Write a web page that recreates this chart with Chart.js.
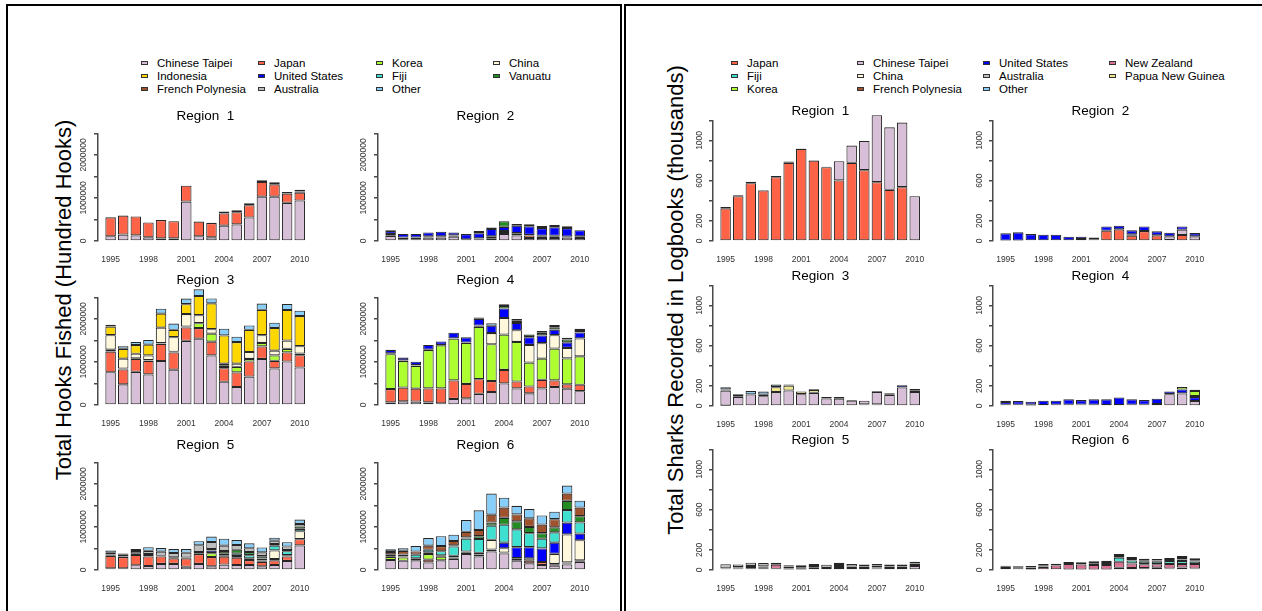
<!DOCTYPE html>
<html>
<head>
<meta charset="utf-8">
<script src="https://cdn.jsdelivr.net/npm/chart.js@4.4.1/dist/chart.umd.min.js"></script>
<style>
  body { margin: 0; width: 1262px; height: 611px; overflow: hidden; position: relative; background: #fff;
         font-family: "Liberation Sans", Arial, sans-serif; color: #000; }
  canvas { position: absolute; }
  .frame { position: absolute; border: 2px solid #000; }
  .ytitle { position: absolute; font-size: 22px; white-space: nowrap; transform: translate(-50%, -50%) rotate(-90deg); }
  .leg { position: absolute; height: 13px; font-size: 11.5px; line-height: 13px; white-space: nowrap; display: flex; align-items: center; }
  .leg i { display: inline-block; width: 5px; height: 2px; border: 1px solid #333; margin-right: 9px; }
</style>
</head>
<body>
<div class="frame" style="left:6px; top:4px; width:612px; height:700px;"></div>
<div class="frame" style="left:624px; top:4px; width:700px; height:700px; border-right:none;"></div>
<div class="ytitle" style="left:64px; top:300px;">Total Hooks Fished (Hundred Hooks)</div>
<div class="ytitle" style="left:676px; top:300px;">Total Sharks Recorded in Logbooks (thousands)</div>

<script>
// years on the x axis
var years = [1995, 1996, 1997, 1998, 1999, 2000, 2001, 2002, 2003, 2004, 2005, 2006, 2007, 2008, 2009, 2010];
var yearLabels = [1995, 1998, 2001, 2004, 2007, 2010];

// left panel: hooks, stacking order = legend order
var hookSeries = ['Chinese Taipei', 'Japan', 'Korea', 'China', 'Indonesia', 'United States', 'Fiji', 'Vanuatu',
                  'French Polynesia', 'Australia', 'Other'];
var hookColors = ['#D8BFD8', '#FF6347', '#ADFF2F', '#FFF8DC', '#FFD700', '#0000FF', '#40E0D0', '#228B22',
                  '#A0522D', '#BEBEBE', '#87CEFA'];
var hookTicks = [0, 500000, 1000000, 1500000, 2000000, 2500000];
var hookTickLabels = [0, 1000000, 2000000];

var hooksR1 = {
  'Chinese Taipei': [110000, 150000, 130000, 85000, 60000, 60000, 915000, 110000, 85000, 355000, 385000, 545000, 1030000, 1030000, 885000, 940000],
  'Japan':          [440000, 440000, 440000, 345000, 425000, 400000, 370000, 340000, 330000, 285000, 285000, 285000, 340000, 285000, 215000, 180000],
  'Vanuatu':        [0, 0, 0, 0, 0, 0, 0, 0, 10000, 45000, 45000, 45000, 40000, 50000, 40000, 30000],
  'Other':          [0, 0, 0, 0, 0, 0, 0, 0, 0, 0, 0, 0, 0, 0, 0, 40000]
};
var hooksR2 = {
  'Chinese Taipei': [120000, 40000, 40000, 80000, 80000, 100000, 20000, 30000, 50000, 160000, 130000, 70000, 70000, 70000, 80000, 70000],
  'Japan':          [40000, 40000, 40000, 30000, 30000, 30000, 20000, 30000, 40000, 50000, 40000, 60000, 40000, 40000, 20000, 20000],
  'China':          [0, 0, 0, 0, 0, 0, 0, 0, 20000, 20000, 15000, 10000, 10000, 10000, 0, 20000],
  'United States':  [70000, 85000, 85000, 90000, 105000, 70000, 120000, 120000, 170000, 100000, 170000, 200000, 180000, 200000, 200000, 140000],
  'Vanuatu':        [0, 0, 0, 0, 0, 0, 0, 50000, 35000, 130000, 40000, 50000, 50000, 50000, 40000, 0],
  'Australia':      [20000, 0, 0, 0, 0, 0, 0, 0, 0, 0, 0, 0, 0, 0, 0, 0]
};
var hooksR3 = {
  'Chinese Taipei': [760000, 480000, 770000, 710000, 1020000, 820000, 1490000, 1540000, 1150000, 540000, 415000, 660000, 1070000, 850000, 1010000, 870000],
  'Japan':          [480000, 345000, 300000, 315000, 400000, 400000, 310000, 245000, 320000, 315000, 340000, 350000, 290000, 175000, 210000, 285000],
  'Korea':          [45000, 20000, 15000, 15000, 15000, 15000, 20000, 115000, 185000, 55000, 130000, 60000, 80000, 125000, 85000, 40000],
  'China':          [335000, 230000, 105000, 110000, 360000, 340000, 290000, 185000, 105000, 50000, 75000, 160000, 180000, 110000, 190000, 170000],
  'Indonesia':      [200000, 230000, 200000, 250000, 325000, 170000, 230000, 445000, 600000, 655000, 500000, 515000, 590000, 530000, 710000, 700000],
  'Other':          [40000, 60000, 70000, 110000, 115000, 145000, 130000, 155000, 115000, 155000, 125000, 100000, 145000, 120000, 140000, 125000]
};
var hooksR4 = {
  'Chinese Taipei': [60000, 85000, 80000, 60000, 40000, 140000, 155000, 260000, 300000, 500000, 385000, 270000, 385000, 420000, 380000, 320000],
  'Japan':          [310000, 320000, 300000, 325000, 345000, 430000, 335000, 340000, 255000, 315000, 160000, 160000, 200000, 150000, 100000, 150000],
  'Korea':          [810000, 615000, 530000, 890000, 1000000, 970000, 950000, 1215000, 855000, 820000, 920000, 555000, 490000, 740000, 600000, 660000],
  'China':          [20000, 15000, 15000, 10000, 10000, 10000, 10000, 30000, 260000, 385000, 270000, 410000, 360000, 310000, 245000, 415000],
  'United States':  [80000, 65000, 80000, 110000, 80000, 130000, 120000, 155000, 170000, 220000, 170000, 180000, 180000, 130000, 130000, 140000],
  'Vanuatu':        [0, 0, 0, 0, 0, 0, 0, 0, 0, 60000, 50000, 60000, 60000, 55000, 65000, 55000],
  'Australia':      [0, 0, 0, 0, 0, 0, 0, 30000, 0, 40000, 40000, 0, 45000, 50000, 40000, 30000],
  'Other':          [0, 0, 0, 0, 0, 0, 0, 0, 60000, 0, 0, 0, 0, 0, 0, 0]
};
var hooksR5 = {
  'Chinese Taipei': [40000, 40000, 110000, 90000, 140000, 140000, 75000, 140000, 85000, 125000, 115000, 115000, 85000, 115000, 210000, 570000],
  'Japan':          [290000, 260000, 240000, 225000, 175000, 130000, 195000, 230000, 215000, 185000, 170000, 115000, 105000, 110000, 105000, 145000],
  'Korea':          [0, 0, 0, 0, 0, 0, 0, 0, 90000, 0, 0, 0, 0, 30000, 0, 0],
  'China':          [0, 0, 0, 0, 0, 0, 0, 0, 0, 0, 0, 0, 0, 200000, 0, 185000],
  'United States':  [30000, 15000, 30000, 0, 15000, 25000, 20000, 20000, 60000, 30000, 40000, 40000, 30000, 0, 30000, 0],
  'Fiji':           [0, 0, 0, 0, 0, 0, 0, 0, 0, 40000, 55000, 75000, 45000, 110000, 90000, 55000],
  'Vanuatu':        [0, 0, 0, 55000, 0, 0, 0, 25000, 40000, 60000, 90000, 70000, 55000, 40000, 30000, 55000],
  'Australia':      [40000, 40000, 60000, 75000, 95000, 100000, 110000, 160000, 160000, 125000, 110000, 90000, 90000, 75000, 80000, 60000],
  'Other':          [55000, 30000, 45000, 85000, 85000, 90000, 85000, 95000, 125000, 160000, 115000, 115000, 115000, 70000, 100000, 100000]
};
var hooksR6 = {
  'Chinese Taipei':   [230000, 215000, 225000, 175000, 225000, 260000, 370000, 315000, 430000, 385000, 215000, 155000, 115000, 100000, 130000, 185000],
  'Japan':            [0, 0, 0, 65000, 0, 30000, 30000, 45000, 45000, 0, 0, 60000, 70000, 20000, 20000, 20000],
  'Korea':            [75000, 75000, 45000, 130000, 85000, 40000, 30000, 40000, 0, 20000, 40000, 0, 0, 20000, 25000, 20000],
  'China':            [20000, 25000, 0, 40000, 30000, 0, 0, 0, 225000, 100000, 20000, 55000, 0, 235000, 650000, 465000],
  'United States':    [0, 0, 0, 0, 0, 0, 0, 0, 0, 130000, 255000, 260000, 315000, 260000, 275000, 155000],
  'Fiji':             [40000, 45000, 85000, 60000, 95000, 215000, 300000, 320000, 330000, 415000, 415000, 325000, 225000, 240000, 290000, 260000],
  'Vanuatu':          [0, 0, 0, 0, 0, 30000, 25000, 65000, 70000, 160000, 185000, 145000, 130000, 115000, 215000, 145000],
  'French Polynesia': [55000, 85000, 75000, 95000, 120000, 100000, 130000, 145000, 185000, 240000, 160000, 200000, 200000, 190000, 170000, 200000],
  'Other':            [60000, 60000, 125000, 175000, 230000, 145000, 275000, 455000, 490000, 230000, 200000, 215000, 210000, 175000, 185000, 160000]
};

// right panel: sharks (thousands)
var sharkSeries = ['Japan', 'Chinese Taipei', 'United States', 'New Zealand', 'Fiji', 'China', 'Australia',
                   'Papua New Guinea', 'Korea', 'French Polynesia', 'Other'];
var sharkColors = ['#FF6347', '#D8BFD8', '#0000FF', '#DB7093', '#40E0D0', '#FFF8DC', '#BEBEBE',
                   '#F0E68C', '#ADFF2F', '#A0522D', '#87CEFA'];
var sharkTicks = [0, 200, 400, 600, 800, 1000, 1200];
var sharkTickLabels = [0, 200, 600, 1000];

var sharksR1 = {
  'Japan':          [325, 446, 575, 502, 635, 777, 916, 800, 734, 602, 777, 704, 585, 509, 535, 0],
  'Chinese Taipei': [0, 0, 0, 0, 0, 0, 0, 0, 0, 191, 172, 291, 665, 621, 642, 446],
  'United States':  [12, 10, 13, 5, 10, 13, 3, 3, 3, 0, 0, 0, 0, 0, 0, 0]
};
var sharksR2 = {
  'Japan':          [5, 4, 0, 0, 0, 0, 20, 17, 102, 116, 53, 99, 56, 10, 60, 0],
  'Chinese Taipei': [0, 0, 0, 0, 0, 0, 0, 0, 0, 0, 13, 0, 0, 36, 52, 46],
  'United States':  [71, 82, 69, 63, 63, 43, 23, 19, 43, 36, 40, 46, 40, 37, 33, 33]
};
var sharksR3 = {
  'Japan':            [3, 0, 0, 0, 0, 0, 0, 0, 0, 0, 0, 16, 16, 0, 0, 0],
  'Chinese Taipei':   [150, 90, 115, 98, 138, 154, 118, 131, 75, 72, 52, 36, 125, 111, 184, 138],
  'United States':    [0, 8, 0, 0, 0, 0, 0, 0, 14, 17, 7, 0, 7, 17, 23, 0],
  'China':            [0, 0, 0, 0, 0, 0, 0, 0, 0, 0, 0, 0, 0, 0, 0, 13],
  'Australia':        [10, 0, 0, 0, 0, 0, 0, 0, 0, 0, 0, 0, 0, 0, 0, 0],
  'Papua New Guinea': [0, 0, 0, 15, 49, 49, 26, 30, 0, 0, 0, 0, 0, 0, 0, 0],
  'French Polynesia': [0, 0, 0, 0, 0, 10, 0, 8, 0, 0, 0, 0, 0, 0, 0, 19],
  'Other':            [24, 20, 33, 30, 26, 0, 0, 0, 0, 0, 0, 0, 0, 0, 0, 0]
};
var sharksR4 = {
  'Japan':            [12, 12, 5, 8, 12, 12, 0, 0, 0, 0, 0, 0, 0, 0, 0, 0],
  'Chinese Taipei':   [0, 0, 8, 0, 0, 0, 15, 12, 10, 10, 12, 12, 20, 118, 125, 49],
  'United States':    [28, 37, 30, 44, 40, 54, 44, 54, 56, 75, 54, 47, 52, 26, 39, 40],
  'China':            [0, 0, 0, 0, 0, 0, 0, 0, 0, 0, 0, 0, 0, 0, 0, 10],
  'Korea':            [12, 0, 0, 0, 0, 0, 0, 0, 0, 0, 0, 0, 0, 0, 26, 50],
  'French Polynesia': [0, 0, 0, 0, 0, 0, 0, 0, 0, 0, 0, 0, 0, 0, 0, 12]
};
var sharksR5 = {
  'Japan':            [12, 15, 17, 13, 12, 5, 5, 10, 10, 10, 10, 10, 0, 10, 10, 0],
  'Chinese Taipei':   [0, 0, 0, 0, 0, 0, 0, 0, 0, 0, 0, 0, 15, 0, 0, 40],
  'United States':    [5, 10, 12, 10, 0, 10, 12, 10, 0, 0, 10, 10, 10, 10, 10, 20],
  'New Zealand':      [0, 5, 10, 13, 41, 20, 10, 8, 10, 20, 15, 15, 20, 15, 15, 5],
  'Fiji':             [0, 0, 0, 0, 0, 0, 0, 0, 0, 20, 0, 0, 0, 0, 0, 0],
  'Australia':        [40, 25, 34, 34, 20, 12, 20, 22, 33, 23, 25, 20, 15, 20, 20, 5],
  'Papua New Guinea': [0, 0, 0, 0, 0, 0, 0, 10, 0, 0, 0, 0, 0, 0, 0, 13]
};
var sharksR6 = {
  'Japan':            [10, 10, 0, 0, 0, 0, 0, 5, 5, 10, 8, 8, 8, 15, 0, 15],
  'Chinese Taipei':   [0, 0, 0, 0, 0, 0, 0, 0, 0, 0, 0, 0, 0, 0, 10, 0],
  'United States':    [10, 8, 5, 0, 0, 5, 5, 0, 0, 12, 12, 10, 15, 0, 15, 0],
  'New Zealand':      [13, 10, 20, 30, 45, 55, 50, 45, 45, 60, 45, 40, 35, 45, 35, 45],
  'Fiji':             [0, 0, 0, 5, 0, 0, 0, 17, 20, 40, 30, 25, 25, 30, 30, 25],
  'Australia':        [0, 0, 0, 0, 0, 0, 0, 0, 0, 0, 0, 0, 0, 0, 15, 12],
  'Papua New Guinea': [0, 0, 0, 0, 0, 0, 0, 0, 0, 0, 0, 0, 0, 0, 15, 0],
  'French Polynesia': [10, 9, 15, 12, 18, 20, 22, 20, 23, 18, 15, 10, 12, 20, 20, 20],
  'Other':            [0, 0, 0, 13, 0, 0, 0, 0, 0, 20, 20, 20, 15, 10, 0, 0]
};

Chart.defaults.font.family = "'Liberation Sans', Arial, sans-serif";

var hookPanel = {
  series: hookSeries, colors: hookColors,
  regions: [hooksR1, hooksR2, hooksR3, hooksR4, hooksR5, hooksR6],
  axisX: [98, 378], zeroY: [241, 405, 570], plotH: 108,
  yMax: 2500000, ticks: hookTicks, tickLabels: hookTickLabels, tickPad: -6.3,
  titlePad: { top: 0, bottom: 9.1 },
  legendX: [141, 258, 376, 493]
};
var sharkPanel = {
  series: sharkSeries, colors: sharkColors,
  regions: [sharksR1, sharksR2, sharksR3, sharksR4, sharksR5, sharksR6],
  axisX: [713, 993], zeroY: [241, 406, 570], plotH: 121,
  yMax: 1200, ticks: sharkTicks, tickLabels: sharkTickLabels, tickPad: -0.6,
  titlePad: { top: 7.9, bottom: 1.2 },
  legendX: [731, 857, 983, 1109]
};
var legendY = [63, 76, 89];
var yAxisW = 40, xAxisH = 30, plotW = 225;

function addLegend(p) {
  p.series.forEach(function (name, k) {
    var d = document.createElement('div');
    d.className = 'leg';
    d.style.left = p.legendX[k % 4] + 'px';
    d.style.top = (legendY[Math.floor(k / 4)] - 6.5) + 'px';
    d.innerHTML = '<i style="background:' + p.colors[k] + '"></i>' + name;
    document.body.appendChild(d);
  });
}

function drawRegion(p, idx) {
  var col = idx % 2, row = Math.floor(idx / 2);
  var region = p.regions[idx];
  var titleH = 13.5 * 1.2 + p.titlePad.top + p.titlePad.bottom;
  var canvas = document.createElement('canvas');
  canvas.width = yAxisW + plotW;
  canvas.height = titleH + p.plotH + xAxisH;
  canvas.style.left = (p.axisX[col] - yAxisW) + 'px';
  canvas.style.top = (p.zeroY[row] - p.plotH - titleH) + 'px';
  document.body.appendChild(canvas);

  var datasets = p.series.map(function (name, k) {
    return {
      label: name,
      data: region[name] || years.map(function () { return 0; }),
      backgroundColor: p.colors[k],
      borderColor: '#262626',
      borderWidth: 1.1,
      borderSkipped: false,
      barPercentage: 11 / 13.2,
      categoryPercentage: 1,
      clip: false
    };
  });

  new Chart(canvas.getContext('2d'), {
    type: 'bar',
    data: { labels: years, datasets: datasets },
    options: {
      responsive: false,
      animation: false,
      devicePixelRatio: 1,
      layout: { padding: 0 },
      plugins: {
        legend: { display: false },
        tooltip: { enabled: false },
        title: {
          display: true, text: 'Region  ' + (idx + 1), fullSize: false,
          color: '#000', font: { size: 13.5, weight: 'normal' }, padding: p.titlePad
        }
      },
      scales: {
        x: {
          type: 'linear', stacked: true, offset: false,
          min: 1994, max: 1994 + plotW / 13.2,
          grid: { display: false, drawTicks: false },
          border: { display: false },
          afterBuildTicks: function (s) { s.ticks = yearLabels.map(function (v) { return { value: v }; }); },
          afterFit: function (s) { s.height = xAxisH; },
          ticks: {
            autoSkip: false, maxRotation: 0, padding: 13.2, color: '#333',
            font: { size: 8.5 },
            callback: function (v) { return String(v); }
          }
        },
        y: {
          stacked: true, min: 0, max: p.yMax,
          grid: { drawOnChartArea: false, drawTicks: true, tickLength: 4, color: '#4a4a4a', lineWidth: 1.5 },
          border: { display: true, color: '#4a4a4a', width: 1.5 },
          afterBuildTicks: function (s) { s.ticks = p.ticks.map(function (v) { return { value: v }; }); },
          afterFit: function (s) { s.width = yAxisW; },
          ticks: {
            autoSkip: false, minRotation: 90, maxRotation: 90, crossAlign: 'center',
            padding: p.tickPad, color: '#333', font: { size: 8.5 },
            callback: function (v) { return p.tickLabels.indexOf(v) >= 0 ? String(v) : ''; }
          }
        }
      }
    }
  });
}

[hookPanel, sharkPanel].forEach(function (p) {
  addLegend(p);
  for (var i = 0; i < 6; i++) drawRegion(p, i);
});
</script>
</body>
</html>
